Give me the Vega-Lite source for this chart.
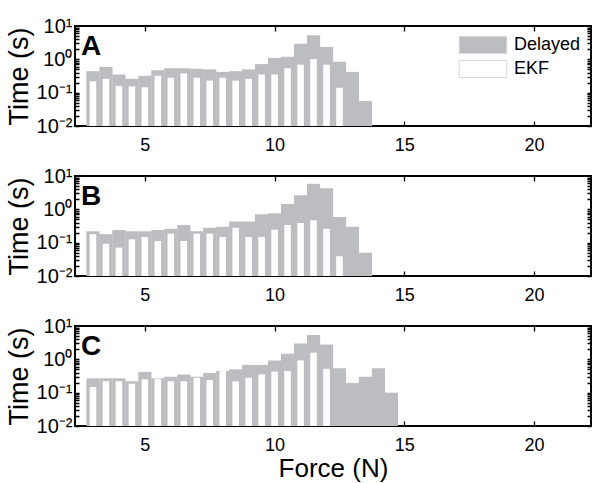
{
  "$schema": "https://vega.github.io/schema/vega-lite/v6.json",
  "background": "white",
  "padding": {"left": 4, "top": 15, "right": 5, "bottom": 0},
  "spacing": 50,
  "bounds": "flush",
  "config": {
    "font": "Liberation Sans",
    "view": {"stroke": "black", "strokeWidth": 2},
    "axis": {
      "domain": false, "ticks": false, "grid": true, "gridColor": "black", "gridWidth": 1.3, "gridOpacity": 1, "zindex": 1,
      "labelColor": "black", "titleColor": "black", "labelFont": "Liberation Sans", "titleFont": "Liberation Sans",
      "titleFontWeight": "normal"
    },
    "title": {"font": "Liberation Sans", "fontWeight": "bold", "fontSize": 28, "anchor": "start", "frame": "group", "offset": -29, "dx": 6, "dy": 16, "baseline": "alphabetic", "color": "black"},
    "legend": {
      "orient": "top-right", "offset": 10, "padding": 0,
      "symbolType": "M-2.8,-1H2.8V1H-2.8Z", "symbolSize": 289,
      "symbolStrokeColor": "#d9d9d9", "symbolStrokeWidth": 1,
      "labelFont": "Liberation Sans", "labelFontSize": 18, "labelOffset": 22, "rowPadding": 2, "labelColor": "black"
    }
  },
  "resolve": {"scale": {"fill": "independent"}, "legend": {"fill": "independent"}},
  "data": {"values": [
    {"panel":"A","series":"Delayed","force":3.0,"time":0.44},
    {"panel":"A","series":"Delayed","force":3.5,"time":0.59},
    {"panel":"A","series":"Delayed","force":4.0,"time":0.35},
    {"panel":"A","series":"Delayed","force":4.5,"time":0.26},
    {"panel":"A","series":"Delayed","force":5.0,"time":0.32},
    {"panel":"A","series":"Delayed","force":5.5,"time":0.47},
    {"panel":"A","series":"Delayed","force":6.0,"time":0.54},
    {"panel":"A","series":"Delayed","force":6.5,"time":0.54},
    {"panel":"A","series":"Delayed","force":7.0,"time":0.52},
    {"panel":"A","series":"Delayed","force":7.5,"time":0.50},
    {"panel":"A","series":"Delayed","force":8.0,"time":0.42},
    {"panel":"A","series":"Delayed","force":8.5,"time":0.44},
    {"panel":"A","series":"Delayed","force":9.0,"time":0.50},
    {"panel":"A","series":"Delayed","force":9.5,"time":0.72},
    {"panel":"A","series":"Delayed","force":10.0,"time":1.10},
    {"panel":"A","series":"Delayed","force":10.5,"time":1.20},
    {"panel":"A","series":"Delayed","force":11.0,"time":2.95},
    {"panel":"A","series":"Delayed","force":11.5,"time":5.25},
    {"panel":"A","series":"Delayed","force":12.0,"time":2.34},
    {"panel":"A","series":"Delayed","force":12.5,"time":0.85},
    {"panel":"A","series":"Delayed","force":13.0,"time":0.42},
    {"panel":"A","series":"Delayed","force":13.5,"time":0.056},
    {"panel":"A","series":"EKF","force":3.0,"time":0.22},
    {"panel":"A","series":"EKF","force":3.5,"time":0.26},
    {"panel":"A","series":"EKF","force":4.0,"time":0.16},
    {"panel":"A","series":"EKF","force":4.5,"time":0.155},
    {"panel":"A","series":"EKF","force":5.0,"time":0.145},
    {"panel":"A","series":"EKF","force":5.5,"time":0.32},
    {"panel":"A","series":"EKF","force":6.0,"time":0.28},
    {"panel":"A","series":"EKF","force":6.5,"time":0.38},
    {"panel":"A","series":"EKF","force":7.0,"time":0.28},
    {"panel":"A","series":"EKF","force":7.5,"time":0.23},
    {"panel":"A","series":"EKF","force":8.0,"time":0.28},
    {"panel":"A","series":"EKF","force":8.5,"time":0.23},
    {"panel":"A","series":"EKF","force":9.0,"time":0.26},
    {"panel":"A","series":"EKF","force":9.5,"time":0.35},
    {"panel":"A","series":"EKF","force":10.0,"time":0.35},
    {"panel":"A","series":"EKF","force":10.5,"time":0.54},
    {"panel":"A","series":"EKF","force":11.0,"time":0.69},
    {"panel":"A","series":"EKF","force":11.5,"time":1.02},
    {"panel":"A","series":"EKF","force":12.0,"time":0.69},
    {"panel":"A","series":"EKF","force":12.5,"time":0.14},
    {"panel":"B","series":"Delayed","force":3.0,"time":0.22},
    {"panel":"B","series":"Delayed","force":3.5,"time":0.18},
    {"panel":"B","series":"Delayed","force":4.0,"time":0.24},
    {"panel":"B","series":"Delayed","force":4.5,"time":0.22},
    {"panel":"B","series":"Delayed","force":5.0,"time":0.22},
    {"panel":"B","series":"Delayed","force":5.5,"time":0.24},
    {"panel":"B","series":"Delayed","force":6.0,"time":0.26},
    {"panel":"B","series":"Delayed","force":6.5,"time":0.34},
    {"panel":"B","series":"Delayed","force":7.0,"time":0.22},
    {"panel":"B","series":"Delayed","force":7.5,"time":0.28},
    {"panel":"B","series":"Delayed","force":8.0,"time":0.30},
    {"panel":"B","series":"Delayed","force":8.5,"time":0.43},
    {"panel":"B","series":"Delayed","force":9.0,"time":0.43},
    {"panel":"B","series":"Delayed","force":9.5,"time":0.71},
    {"panel":"B","series":"Delayed","force":10.0,"time":0.76},
    {"panel":"B","series":"Delayed","force":10.5,"time":1.45},
    {"panel":"B","series":"Delayed","force":11.0,"time":2.63},
    {"panel":"B","series":"Delayed","force":11.5,"time":5.9},
    {"panel":"B","series":"Delayed","force":12.0,"time":4.27},
    {"panel":"B","series":"Delayed","force":12.5,"time":0.59},
    {"panel":"B","series":"Delayed","force":13.0,"time":0.30},
    {"panel":"B","series":"Delayed","force":13.5,"time":0.05},
    {"panel":"B","series":"EKF","force":3.0,"time":0.18},
    {"panel":"B","series":"EKF","force":3.5,"time":0.093},
    {"panel":"B","series":"EKF","force":4.0,"time":0.071},
    {"panel":"B","series":"EKF","force":4.5,"time":0.126},
    {"panel":"B","series":"EKF","force":5.0,"time":0.148},
    {"panel":"B","series":"EKF","force":5.5,"time":0.112},
    {"panel":"B","series":"EKF","force":6.0,"time":0.186},
    {"panel":"B","series":"EKF","force":6.5,"time":0.112},
    {"panel":"B","series":"EKF","force":7.0,"time":0.186},
    {"panel":"B","series":"EKF","force":7.5,"time":0.186},
    {"panel":"B","series":"EKF","force":8.0,"time":0.148},
    {"panel":"B","series":"EKF","force":8.5,"time":0.28},
    {"panel":"B","series":"EKF","force":9.0,"time":0.148},
    {"panel":"B","series":"EKF","force":9.5,"time":0.148},
    {"panel":"B","series":"EKF","force":10.0,"time":0.245},
    {"panel":"B","series":"EKF","force":10.5,"time":0.34},
    {"panel":"B","series":"EKF","force":11.0,"time":0.39},
    {"panel":"B","series":"EKF","force":11.5,"time":0.47},
    {"panel":"B","series":"EKF","force":12.0,"time":0.26},
    {"panel":"B","series":"EKF","force":12.5,"time":0.039},
    {"panel":"C","series":"Delayed","force":3.0,"time":0.27},
    {"panel":"C","series":"Delayed","force":3.5,"time":0.27},
    {"panel":"C","series":"Delayed","force":4.0,"time":0.27},
    {"panel":"C","series":"Delayed","force":4.5,"time":0.22},
    {"panel":"C","series":"Delayed","force":5.0,"time":0.42},
    {"panel":"C","series":"Delayed","force":5.5,"time":0.27},
    {"panel":"C","series":"Delayed","force":6.0,"time":0.30},
    {"panel":"C","series":"Delayed","force":6.5,"time":0.35},
    {"panel":"C","series":"Delayed","force":7.0,"time":0.30},
    {"panel":"C","series":"Delayed","force":7.5,"time":0.39},
    {"panel":"C","series":"Delayed","force":8.0,"time":0.45},
    {"panel":"C","series":"Delayed","force":8.5,"time":0.50},
    {"panel":"C","series":"Delayed","force":9.0,"time":0.68},
    {"panel":"C","series":"Delayed","force":9.5,"time":0.68},
    {"panel":"C","series":"Delayed","force":10.0,"time":0.93},
    {"panel":"C","series":"Delayed","force":10.5,"time":1.48},
    {"panel":"C","series":"Delayed","force":11.0,"time":3.0},
    {"panel":"C","series":"Delayed","force":11.5,"time":5.4},
    {"panel":"C","series":"Delayed","force":12.0,"time":2.8},
    {"panel":"C","series":"Delayed","force":12.5,"time":0.54},
    {"panel":"C","series":"Delayed","force":13.0,"time":0.195},
    {"panel":"C","series":"Delayed","force":13.5,"time":0.30},
    {"panel":"C","series":"Delayed","force":14.0,"time":0.54},
    {"panel":"C","series":"Delayed","force":14.5,"time":0.1},
    {"panel":"C","series":"EKF","force":3.0,"time":0.148},
    {"panel":"C","series":"EKF","force":3.5,"time":0.22},
    {"panel":"C","series":"EKF","force":4.0,"time":0.22},
    {"panel":"C","series":"EKF","force":4.5,"time":0.186},
    {"panel":"C","series":"EKF","force":5.0,"time":0.25},
    {"panel":"C","series":"EKF","force":5.5,"time":0.26},
    {"panel":"C","series":"EKF","force":6.0,"time":0.22},
    {"panel":"C","series":"EKF","force":6.5,"time":0.22},
    {"panel":"C","series":"EKF","force":7.0,"time":0.28},
    {"panel":"C","series":"EKF","force":7.5,"time":0.24},
    {"panel":"C","series":"EKF","force":8.0,"time":0.47},
    {"panel":"C","series":"EKF","force":8.5,"time":0.22},
    {"panel":"C","series":"EKF","force":9.0,"time":0.28},
    {"panel":"C","series":"EKF","force":9.5,"time":0.355},
    {"panel":"C","series":"EKF","force":10.0,"time":0.43},
    {"panel":"C","series":"EKF","force":10.5,"time":0.45},
    {"panel":"C","series":"EKF","force":11.0,"time":0.93},
    {"panel":"C","series":"EKF","force":11.5,"time":1.58},
    {"panel":"C","series":"EKF","force":12.0,"time":0.52}
  ]},
  "vconcat": [
    {
      "width": 516, "height": 100,
      "title": "A",
      "transform": [{"filter": "datum.panel === 'A'"}],
      "layer": [
        {
          "transform": [{"filter": "datum.series === 'Delayed'"}],
          "mark": {"type": "bar", "size": 13.2},
          "encoding": {
            "x": {"field": "force", "type": "quantitative", "scale": {"domain": [2.5, 22], "nice": false, "zero": false},
                  "axis": {"orient": "bottom", "tickCount": 4, "gridDash": [5, 90, 5, 100], "labelFontSize": 18, "labelPadding": 10, "title": null}},
            "y": {"field": "time", "type": "quantitative", "stack": null, "scale": {"type": "log", "domain": [0.01, 10], "nice": false},
                  "axis": {"orient": "left", "tickCount": 30, "labelOverlap": false, "gridDash": [4, 508, 4, 100],
                           "labelExpr": "datum.value == 10 ? '10¹' : datum.value == 1 ? '10⁰' : datum.value == 0.1 ? '10⁻¹' : datum.value == 0.01 ? '10⁻²' : ''",
                           "labelFontSize": 20, "labelPadding": 3, "title": "Time (s)", "titleFontSize": 27, "titlePadding": 3}},
            "fill": {"field": "series", "type": "nominal", "scale": {"domain": ["Delayed", "EKF"], "range": ["#bcbdc0", "#ffffff"]},
                     "legend": {"title": null}}
          }
        },
        {
          "transform": [{"filter": "datum.series === 'EKF'"}],
          "mark": {"type": "bar", "size": 6.6},
          "encoding": {
            "x": {"field": "force", "type": "quantitative"},
            "y": {"field": "time", "type": "quantitative", "stack": null},
            "fill": {"field": "series", "type": "nominal"}
          }
        }
      ]
    },
    {
      "width": 516, "height": 100,
      "title": "B",
      "transform": [{"filter": "datum.panel === 'B'"}],
      "layer": [
        {
          "transform": [{"filter": "datum.series === 'Delayed'"}],
          "mark": {"type": "bar", "size": 13.2},
          "encoding": {
            "x": {"field": "force", "type": "quantitative", "scale": {"domain": [2.5, 22], "nice": false, "zero": false},
                  "axis": {"orient": "bottom", "tickCount": 4, "gridDash": [5, 90, 5, 100], "labelFontSize": 18, "labelPadding": 10, "title": null}},
            "y": {"field": "time", "type": "quantitative", "stack": null, "scale": {"type": "log", "domain": [0.01, 10], "nice": false},
                  "axis": {"orient": "left", "tickCount": 30, "labelOverlap": false, "gridDash": [4, 508, 4, 100],
                           "labelExpr": "datum.value == 10 ? '10¹' : datum.value == 1 ? '10⁰' : datum.value == 0.1 ? '10⁻¹' : datum.value == 0.01 ? '10⁻²' : ''",
                           "labelFontSize": 20, "labelPadding": 3, "title": "Time (s)", "titleFontSize": 27, "titlePadding": 3}},
            "fill": {"field": "series", "type": "nominal", "scale": {"domain": ["Delayed", "EKF"], "range": ["#bcbdc0", "#ffffff"]}, "legend": null}
          }
        },
        {
          "transform": [{"filter": "datum.series === 'EKF'"}],
          "mark": {"type": "bar", "size": 6.6},
          "encoding": {
            "x": {"field": "force", "type": "quantitative"},
            "y": {"field": "time", "type": "quantitative", "stack": null},
            "fill": {"field": "series", "type": "nominal", "legend": null}
          }
        }
      ]
    },
    {
      "width": 516, "height": 100,
      "title": "C",
      "transform": [{"filter": "datum.panel === 'C'"}],
      "layer": [
        {
          "transform": [{"filter": "datum.series === 'Delayed'"}],
          "mark": {"type": "bar", "size": 13.2},
          "encoding": {
            "x": {"field": "force", "type": "quantitative", "scale": {"domain": [2.5, 22], "nice": false, "zero": false},
                  "axis": {"orient": "bottom", "tickCount": 4, "gridDash": [5, 90, 5, 100], "labelFontSize": 18, "labelPadding": 10, "title": "Force (N)", "titleFontSize": 26, "titlePadding": 1}},
            "y": {"field": "time", "type": "quantitative", "stack": null, "scale": {"type": "log", "domain": [0.01, 10], "nice": false},
                  "axis": {"orient": "left", "tickCount": 30, "labelOverlap": false, "gridDash": [4, 508, 4, 100],
                           "labelExpr": "datum.value == 10 ? '10¹' : datum.value == 1 ? '10⁰' : datum.value == 0.1 ? '10⁻¹' : datum.value == 0.01 ? '10⁻²' : ''",
                           "labelFontSize": 20, "labelPadding": 3, "title": "Time (s)", "titleFontSize": 27, "titlePadding": 3}},
            "fill": {"field": "series", "type": "nominal", "scale": {"domain": ["Delayed", "EKF"], "range": ["#bcbdc0", "#ffffff"]}, "legend": null}
          }
        },
        {
          "transform": [{"filter": "datum.series === 'EKF'"}],
          "mark": {"type": "bar", "size": 6.6},
          "encoding": {
            "x": {"field": "force", "type": "quantitative"},
            "y": {"field": "time", "type": "quantitative", "stack": null},
            "fill": {"field": "series", "type": "nominal", "legend": null}
          }
        }
      ]
    }
  ]
}
